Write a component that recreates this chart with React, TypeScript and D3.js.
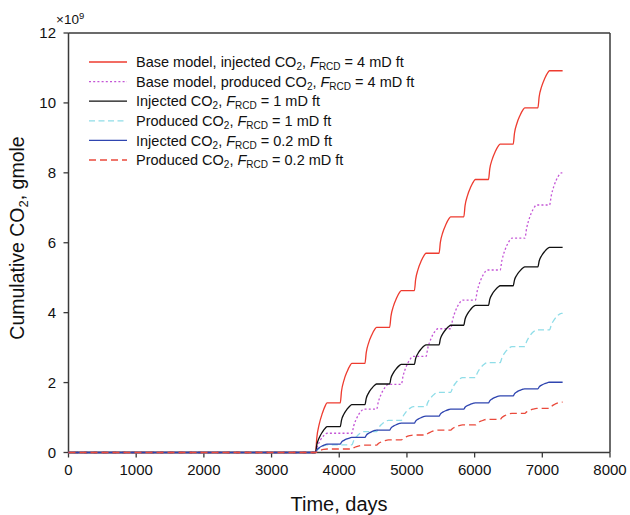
import React from "react";
import * as d3 from "d3";

// ---- data ----
const X_TICKS = [0, 1000, 2000, 3000, 4000, 5000, 6000, 7000, 8000];
const Y_TICKS = [0, 2, 4, 6, 8, 10, 12];
const X_DOMAIN = [0, 8000];
const Y_DOMAIN = [0, 12];

// yearly huff-n-puff cycles (days)
const CYCLE_START_DAYS = [3650, 4015, 4380, 4745, 5110, 5475, 5840, 6205, 6570, 6935];
const END_DAY = 7300;
const INJECTION_WINDOW = [0, 170];
const PRODUCTION_WINDOW = [172, 347];
// shape of one rise (fraction of window, fraction of increment)
const INJ_RISE_SHAPE = [[0, 0], [0.11, 0.3], [0.32, 0.57], [0.59, 0.79], [0.86, 0.95], [1, 1]];
const PROD_RISE_SHAPE = [[0, 0], [0.15, 0.3], [0.4, 0.62], [0.7, 0.87], [1, 1]];

// plateau values after each cycle, x10^9 gmole
const baseInjected = [1.42, 2.55, 3.58, 4.63, 5.70, 6.74, 7.81, 8.82, 9.86, 10.92];
const baseProduced = [0.55, 1.24, 1.95, 2.75, 3.54, 4.36, 5.22, 6.13, 7.08, 8.0];
const injected1 = [0.74, 1.37, 1.96, 2.52, 3.08, 3.64, 4.21, 4.77, 5.31, 5.87];
const produced1 = [0.22, 0.6, 0.92, 1.31, 1.72, 2.14, 2.57, 3.03, 3.51, 3.98];
const injected02 = [0.24, 0.43, 0.64, 0.84, 1.04, 1.24, 1.42, 1.62, 1.82, 2.01];
const produced02 = [0.1, 0.21, 0.36, 0.5, 0.64, 0.79, 0.95, 1.12, 1.26, 1.44];

const LEGEND_PREFIX = [
  "Base model, injected CO",
  "Base model, produced CO",
  "Injected CO",
  "Produced CO",
  "Injected CO",
  "Produced CO",
];
const LEGEND_VALUE = ["4 mD ft", "4 mD ft", "1 mD ft", "1 mD ft", "0.2 mD ft", "0.2 mD ft"];

const SERIES = [
  { values: baseInjected, kind: "inj", color: "#ee3b2f", dash: null },
  { values: baseProduced, kind: "prod", color: "#c455d6", dash: "2,2.2" },
  { values: injected1, kind: "inj", color: "#111111", dash: null },
  { values: produced1, kind: "prod", color: "#8fdde8", dash: "6,3.5" },
  { values: injected02, kind: "inj", color: "#2f45b0", dash: null },
  { values: produced02, kind: "prod", color: "#ea4a3c", dash: "7,4" },
];

// ---- layout ----
const W = 630;
const H = 515;
const L = 68.5;
const R = 610;
const T = 33;
const B = 452.5;
const FONT = "Arial, 'Liberation Sans', Helvetica, sans-serif";

function buildPoints(values: number[], kind: string): [number, number][] {
  const pts: [number, number][] = [[0, 0], [CYCLE_START_DAYS[0], 0]];
  let prev = 0;
  values.forEach((v, k) => {
    const s = CYCLE_START_DAYS[k];
    let win = kind === "inj" ? INJECTION_WINDOW : PRODUCTION_WINDOW;
    const shape = kind === "inj" ? INJ_RISE_SHAPE : PROD_RISE_SHAPE;
    if (kind === "prod" && k === 0) win = INJECTION_WINDOW;
    const a = s + win[0];
    const b = s + win[1];
    if (pts[pts.length - 1][0] < a) pts.push([a, prev]);
    shape.forEach(([f, g]) => {
      if (f === 0) return;
      pts.push([a + f * (b - a), prev + g * (v - prev)]);
    });
    prev = v;
  });
  pts.push([END_DAY, prev]);
  return pts;
}

export default function App() {
  const x = d3.scaleLinear().domain(X_DOMAIN).range([L, R]);
  const y = d3.scaleLinear().domain(Y_DOMAIN).range([B, T]);
  const line = d3
    .line<[number, number]>()
    .x((d) => x(d[0]))
    .y((d) => y(d[1]))
    .curve(d3.curveMonotoneX);

  const axisColor = "#3a3a3a";
  const legX1 = 89;
  const legX2 = 127;
  const legTextX = 136;
  const legY0 = 62;
  const legDy = 19.6;

  return (
    <svg width={W} height={H} style={{ display: "block", position: "absolute", left: 0, top: 0 }} fontFamily={FONT}>
      <rect x={0} y={0} width={W} height={H} fill="#ffffff" />
      {/* frame */}
      <line x1={L} x2={R} y1={T} y2={T} stroke={axisColor} strokeWidth={1.5} />
      <line x1={R} x2={R} y1={T} y2={B} stroke={axisColor} strokeWidth={1.5} />
      <line x1={L} x2={R} y1={B} y2={B} stroke={axisColor} strokeWidth={1.5} />
      <line x1={L} x2={L} y1={T} y2={B} stroke={axisColor} strokeWidth={1.5} />
      {/* x ticks */}
      {X_TICKS.map((t) => (
        <g key={"x" + t}>
          <line x1={x(t)} x2={x(t)} y1={B} y2={B + 5} stroke={axisColor} strokeWidth={1.3} />
          <text x={x(t)} y={B + 22} textAnchor="middle" fontSize={15} fill="#111">
            {t}
          </text>
        </g>
      ))}
      {/* y ticks */}
      {Y_TICKS.map((t) => (
        <g key={"y" + t}>
          <line x1={L - 5} x2={L} y1={y(t)} y2={y(t)} stroke={axisColor} strokeWidth={1.3} />
          <text x={56} y={y(t) + 5.3} textAnchor="end" fontSize={15} fill="#111">
            {t}
          </text>
        </g>
      ))}
      {/* series, drawn over the axes */}
      {SERIES.map((s, i) => (
        <path
          key={i}
          d={line(buildPoints(s.values, s.kind)) || ""}
          fill="none"
          stroke={s.color}
          strokeWidth={1.3}
          strokeDasharray={s.dash || undefined}
        />
      ))}
      {/* multiplier */}
      <text x={56} y={24} fontSize={13.5} fill="#111">
        ×10<tspan fontSize={9.5} dy={-5}>9</tspan>
      </text>
      {/* axis titles */}
      <text x={339} y={511} textAnchor="middle" fontSize={20} fill="#111">
        Time, days
      </text>
      <text transform="translate(24,238) rotate(-90)" textAnchor="middle" fontSize={19.5} fill="#111">
        Cumulative CO<tspan fontSize={13} dy={4}>2</tspan>
        <tspan dy={-4}>, gmole</tspan>
      </text>
      {/* legend */}
      {SERIES.map((s, i) => {
        const ly = legY0 + i * legDy;
        return (
          <g key={"leg" + i}>
            <line
              x1={legX1}
              x2={legX2}
              y1={ly}
              y2={ly}
              stroke={s.color}
              strokeWidth={1.3}
              strokeDasharray={s.dash || undefined}
            />
            <text x={legTextX} y={ly + 5.2} fontSize={14.5} fill="#111">
              <tspan>{LEGEND_PREFIX[i]}</tspan>
              <tspan fontSize={10} dy={3}>2</tspan>
              <tspan dy={-3}>{", "}</tspan>
              <tspan fontStyle="italic">F</tspan>
              <tspan fontSize={10} dy={3}>RCD</tspan>
              <tspan dy={-3}>{" = " + LEGEND_VALUE[i]}</tspan>
            </text>
          </g>
        );
      })}
    </svg>
  );
}
